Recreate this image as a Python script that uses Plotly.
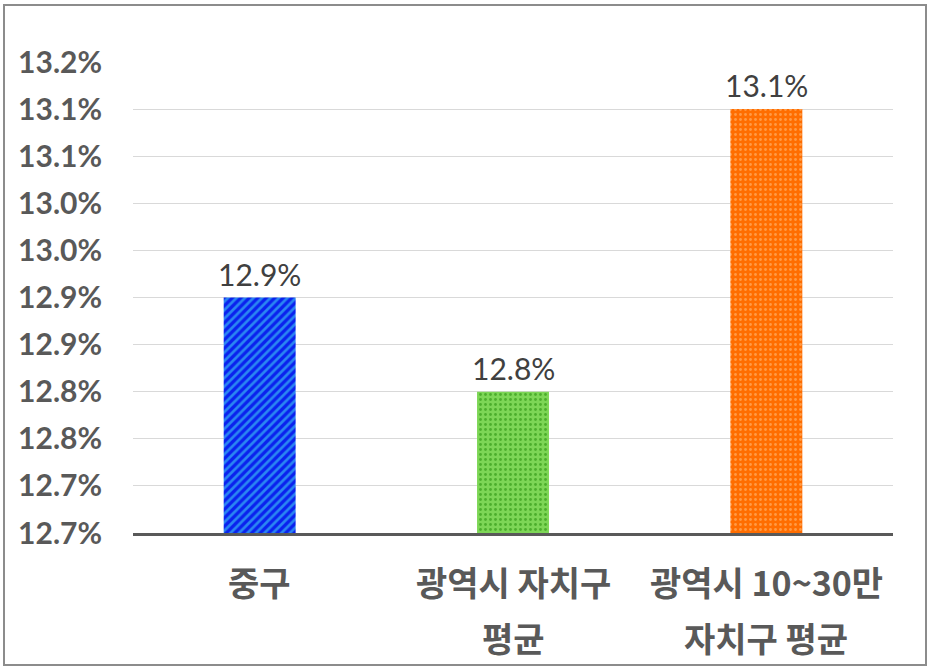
import plotly.graph_objects as go

categories = ["중구", "광역시 자치구 평균", "광역시 10~30만 자치구 평균"]
label_line1 = ["중구", "광역시 자치구", "광역시 10~30만"]
label_line2 = ["", "평균", "자치구 평균"]
values = [12.9, 12.8, 13.1]
tick_vals = [12.65, 12.70, 12.75, 12.80, 12.85, 12.90, 12.95, 13.00, 13.05, 13.10, 13.15]
tick_text = ["12.7%", "12.7%", "12.8%", "12.8%", "12.9%", "12.9%", "13.0%", "13.0%", "13.1%", "13.1%", "13.2%"]

bg_colors = ["#0A22EE", "#7DD656", "#FF6D00"]
fg_colors = ["#2A86F2", "#4CAE2C", "#FF9A45"]
shapes = ["/", ".", "."]
sizes = [6, 5, 5]
solidities = [0.45, 0.25, 0.25]

fig = go.Figure()
for c, v, bg, fg, sh, sz, so in zip(categories, values, bg_colors, fg_colors, shapes, sizes, solidities):
    fig.add_trace(go.Bar(
        x=[c],
        y=[v],
        marker=dict(
            color=bg,
            line=dict(width=0),
            pattern=dict(shape=sh, fgcolor=fg, bgcolor=bg, fgopacity=1,
                         size=sz, solidity=so, fillmode="replace"),
        ),
        showlegend=False,
        hoverinfo="skip",
    ))

annotations = []
for c, v in zip(categories, values):
    annotations.append(dict(
        x=c, y=v, xref="x", yref="y", text=f"{v:.1f}%", showarrow=False,
        yanchor="bottom", yshift=4,
        font=dict(family="Lato, Noto Sans", size=30, color="#404040"),
    ))
kfont = dict(family="Noto Sans CJK KR", size=34, color="#595959")
for c, l1, l2 in zip(categories, label_line1, label_line2):
    annotations.append(dict(
        x=c, y=0, xref="x", yref="paper", text=f"<b>{l1}</b>", showarrow=False,
        yanchor="middle", yshift=-48, font=kfont,
    ))
    if l2:
        annotations.append(dict(
            x=c, y=0, xref="x", yref="paper", text=f"<b>{l2}</b>", showarrow=False,
            yanchor="middle", yshift=-104, font=kfont,
        ))

fig.update_layout(
    width=930, height=669,
    margin=dict(l=133, r=37, t=62, b=136),
    paper_bgcolor="white", plot_bgcolor="white",
    barmode="overlay",
    bargap=0.716,
    annotations=annotations,
    xaxis=dict(
        showticklabels=False, showgrid=False, ticks="",
        showline=True, linecolor="#595959", linewidth=3,
    ),
    yaxis=dict(
        range=[12.65, 13.15], tickvals=tick_vals, ticktext=tick_text,
        showgrid=True, gridcolor="#D9D9D9", gridwidth=1,
        zeroline=False, showline=False, ticks="", ticklabelstandoff=30,
        tickfont=dict(family="Lato, Noto Sans", size=30, color="#595959", weight="bold"),
    ),
    shapes=[dict(
        type="rect", xref="paper", yref="paper",
        x0=(4 - 133) / 760, x1=(926 - 133) / 760,
        y0=(669 - 136 - 665) / 471, y1=(669 - 136 - 5) / 471,
        line=dict(color="#8C8C8C", width=2), fillcolor="rgba(0,0,0,0)", layer="below",
    )],
)

fig.write_html("out.html", config={"displayModeBar": False},
               post_script="document.body.style.margin='0';")
